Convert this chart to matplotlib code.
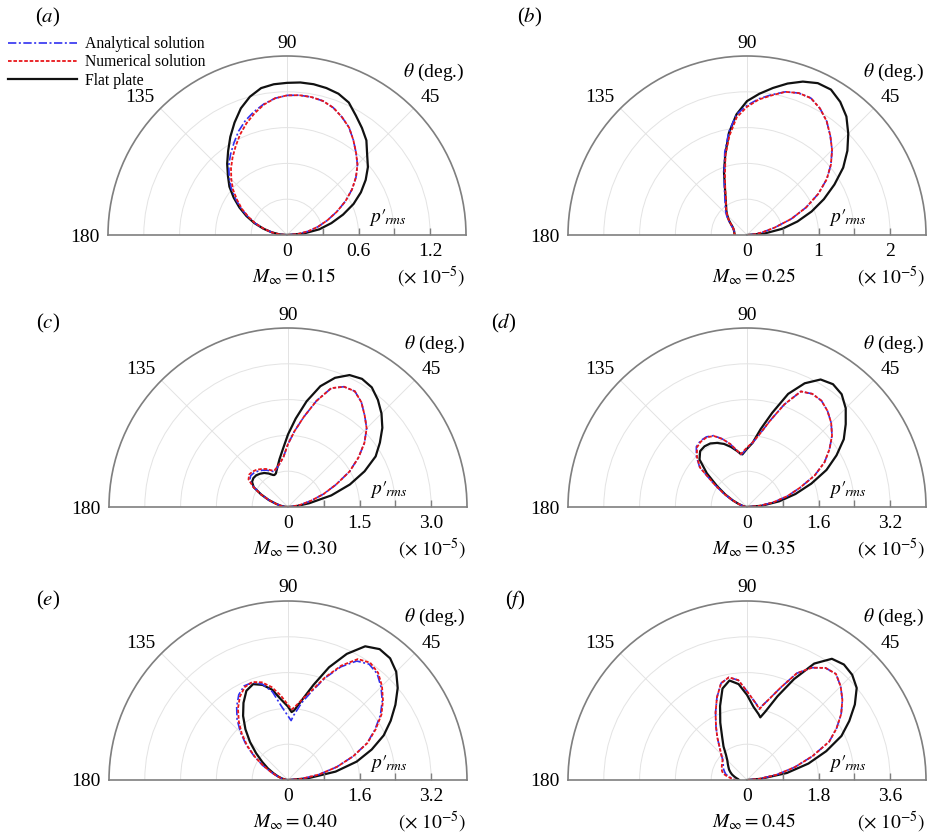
import numpy as np
import matplotlib
matplotlib.use('Agg')
import matplotlib.pyplot as plt

plt.rcParams['font.family'] = ['Liberation Serif', 'DejaVu Serif']
plt.rcParams['mathtext.fontset'] = 'stix'

# directivity p'_rms (x 1e-5), theta in degrees
a_theta = [0, 5, 10, 15, 20, 25, 30, 35, 40, 45, 50, 55, 60, 65, 70, 75, 80, 85, 90,
           95, 100, 105, 110, 115, 120, 125, 130, 135, 140, 145, 150, 155, 160, 165, 170, 175, 180]
a_flat = [0, 0.14, 0.275, 0.385, 0.50, 0.615, 0.715, 0.805, 0.885, 0.95, 1.035, 1.095, 1.155, 1.225, 1.26, 1.275, 1.283, 1.283, 1.275,
          1.268, 1.25, 1.2, 1.13, 1.04, 0.95, 0.86, 0.78, 0.70, 0.63, 0.545, 0.46, 0.375, 0.29, 0.205, 0.13, 0.065, 0]
a_num = [0, 0.09, 0.18, 0.27, 0.36, 0.46, 0.565, 0.665, 0.755, 0.835, 0.90, 0.97, 1.04, 1.09, 1.135, 1.163, 1.174, 1.176, 1.17,
         1.15, 1.11, 1.055, 0.995, 0.93, 0.86, 0.795, 0.73, 0.66, 0.59, 0.51, 0.435, 0.355, 0.28, 0.20, 0.13, 0.065, 0]
a_ana = [0, 0.09, 0.18, 0.27, 0.36, 0.46, 0.565, 0.665, 0.755, 0.835, 0.90, 0.97, 1.04, 1.09, 1.135, 1.163, 1.174, 1.176, 1.17,
         1.15, 1.115, 1.07, 1.02, 0.96, 0.89, 0.825, 0.76, 0.685, 0.61, 0.525, 0.445, 0.36, 0.28, 0.20, 0.13, 0.065, 0]

b_theta = [0, 5, 10, 15, 20, 25, 30, 35, 40, 45, 50, 55, 60, 65, 70, 75, 80, 85, 90,
           95, 100, 105, 110, 115, 120, 125, 130, 135, 140, 145, 150, 155, 160, 165, 170, 175, 180]
b_flat = [0, 0.25, 0.5, 0.73, 0.96, 1.185, 1.41, 1.64, 1.83, 2.0, 2.16, 2.27, 2.345, 2.34, 2.28, 2.19, 2.085, 1.98, 1.87,
          1.69, 1.45, 1.17, 0.94, 0.73, 0.6, 0.51, 0.45, 0.39, 0.335, 0.28, 0.235, 0.21, 0.195, 0.185, 0.18, 0.175, 0.17]
b_num = [0, 0.1, 0.22, 0.4, 0.66, 0.91, 1.15, 1.36, 1.53, 1.68, 1.81, 1.94, 2.04, 2.11, 2.11, 2.07, 1.98, 1.9, 1.79,
         1.65, 1.41, 1.16, 0.9, 0.72, 0.59, 0.51, 0.45, 0.39, 0.335, 0.28, 0.235, 0.21, 0.195, 0.185, 0.18, 0.175, 0.17]
b_ana = [0, 0.1, 0.22, 0.4, 0.66, 0.91, 1.15, 1.36, 1.53, 1.68, 1.81, 1.94, 2.04, 2.11, 2.11, 2.07, 1.99, 1.91, 1.81,
         1.69, 1.46, 1.2, 0.93, 0.75, 0.62, 0.53, 0.47, 0.41, 0.35, 0.29, 0.245, 0.215, 0.195, 0.185, 0.18, 0.175, 0.17]

c_theta = [0, 5, 10, 15, 20, 25, 30, 35, 40, 45, 50, 55, 60, 65, 70, 75, 80, 85, 90, 95, 100, 105, 110,
           113, 115, 120, 125, 130, 135, 140, 145, 150, 155, 160, 165, 170, 175, 180]
c_flat = [0, 0.15, 0.45, 0.94, 1.38, 1.77, 2.12, 2.35, 2.58, 2.77, 2.93, 3.06, 3.1, 3.05, 2.88, 2.62, 2.25, 1.86, 1.52, 1.22, 1.02, 0.86, 0.745,
          0.728, 0.74, 0.81, 0.87, 0.91, 0.94, 0.945, 0.92, 0.83, 0.62, 0.43, 0.26, 0.16, 0.07, 0]
c_num = [0, 0.08, 0.26, 0.49, 0.79, 1.11, 1.49, 1.8, 2.09, 2.33, 2.5, 2.68, 2.8, 2.78, 2.65, 2.3, 1.92, 1.6, 1.32, 1.06, 0.94, 0.87, 0.82,
         0.83, 0.85, 0.92, 0.97, 1.02, 1.05, 1.06, 1.01, 0.84, 0.63, 0.43, 0.26, 0.16, 0.07, 0]
c_ana = [0, 0.08, 0.26, 0.49, 0.79, 1.11, 1.49, 1.8, 2.09, 2.33, 2.5, 2.68, 2.8, 2.78, 2.65, 2.3, 1.92, 1.6, 1.32, 1.06, 0.94, 0.86, 0.8,
         0.81, 0.83, 0.89, 0.94, 0.98, 1.01, 1.02, 0.98, 0.83, 0.62, 0.43, 0.26, 0.16, 0.07, 0]

d_theta = [0, 5, 10, 15, 20, 25, 30, 35, 40, 45, 50, 55, 60, 65, 70, 75, 80, 85, 90, 95,
           97, 100, 105, 110, 115, 120, 125, 130, 135, 140, 145, 150, 155, 160, 165, 170, 175, 180]
d_flat = [0, 0.33, 0.73, 1.12, 1.53, 1.96, 2.31, 2.64, 2.88, 3.12, 3.29, 3.35, 3.29, 3.05, 2.69, 2.18, 1.77, 1.44, 1.3, 1.18,
          1.2, 1.27, 1.39, 1.5, 1.58, 1.64, 1.655, 1.63, 1.5, 1.17, 0.82, 0.56, 0.35, 0.2, 0.1, 0.05, 0.02, 0]
d_num = [0, 0.27, 0.59, 0.93, 1.26, 1.67, 2.0, 2.25, 2.48, 2.66, 2.8, 2.9, 2.92, 2.85, 2.44, 2.0, 1.66, 1.45, 1.33, 1.22,
         1.19, 1.28, 1.46, 1.62, 1.75, 1.8, 1.79, 1.74, 1.58, 1.37, 0.9, 0.6, 0.36, 0.2, 0.1, 0.05, 0.02, 0]
d_ana = [0, 0.27, 0.59, 0.93, 1.26, 1.67, 2.0, 2.25, 2.48, 2.66, 2.8, 2.9, 2.92, 2.85, 2.44, 2.0, 1.66, 1.44, 1.31, 1.2,
         1.18, 1.27, 1.46, 1.62, 1.76, 1.81, 1.81, 1.76, 1.6, 1.38, 0.91, 0.6, 0.36, 0.2, 0.1, 0.05, 0.02, 0]

e_theta = [0, 5, 10, 15, 20, 25, 30, 35, 40, 45, 50, 55, 60, 65, 70, 75, 80, 85, 87,
           90, 95, 100, 105, 110, 115, 120, 125, 130, 135, 140, 145, 150, 155, 160, 165, 170, 175, 180]
e_flat = [0, 0.45, 1.08, 1.59, 1.99, 2.36, 2.65, 2.93, 3.2, 3.42, 3.55, 3.57, 3.45, 3.11, 2.68, 2.2, 1.82, 1.56, 1.52,
          1.64, 1.81, 2.05, 2.2, 2.28, 2.2, 1.99, 1.75, 1.48, 1.2, 0.93, 0.7, 0.52, 0.36, 0.24, 0.15, 0.08, 0.03, 0]
e_num = [0, 0.3, 0.7, 1.13, 1.55, 1.96, 2.26, 2.55, 2.77, 2.97, 3.13, 3.2, 3.12, 2.82, 2.45, 2.08, 1.83, 1.63, 1.58,
         1.68, 1.9, 2.11, 2.26, 2.33, 2.29, 2.15, 1.95, 1.71, 1.46, 1.19, 0.9, 0.64, 0.42, 0.26, 0.16, 0.08, 0.03, 0]
e_ana = [0, 0.3, 0.7, 1.13, 1.55, 1.95, 2.24, 2.52, 2.75, 2.94, 3.1, 3.16, 3.07, 2.79, 2.43, 2.05, 1.75, 1.45, 1.33,
         1.43, 1.65, 2.0, 2.22, 2.32, 2.32, 2.2, 2.0, 1.77, 1.5, 1.22, 0.92, 0.65, 0.42, 0.26, 0.16, 0.08, 0.03, 0]

f_theta = [0, 5, 10, 15, 20, 25, 30, 35, 40, 45, 50, 55, 60, 65, 70, 75, 78,
           80, 85, 90, 95, 100, 105, 110, 115, 120, 125, 130, 135, 140, 145, 150, 155, 160, 165, 170, 175, 180]
f_flat = [0, 0.35, 1.02, 1.6, 2.12, 2.62, 2.97, 3.31, 3.6, 3.74, 3.79, 3.72, 3.38, 2.8, 2.24, 1.78, 1.61,
          1.68, 1.85, 2.14, 2.42, 2.54, 2.38, 1.98, 1.59, 1.25, 1.03, 0.82, 0.7, 0.63, 0.57, 0.52, 0.46, 0.4, 0.33, 0.27, 0.22, 0.2]
f_num = [0, 0.3, 0.75, 1.24, 1.75, 2.28, 2.6, 2.89, 3.13, 3.33, 3.48, 3.44, 3.26, 2.96, 2.47, 2.09, 1.92,
         1.81, 2.0, 2.23, 2.52, 2.62, 2.52, 2.21, 1.87, 1.56, 1.3, 1.07, 0.92, 0.8, 0.76, 0.73, 0.7, 0.67, 0.62, 0.5, 0.38, 0.3]
f_ana = [0, 0.3, 0.75, 1.24, 1.75, 2.28, 2.6, 2.89, 3.13, 3.33, 3.48, 3.44, 3.26, 2.96, 2.47, 2.09, 1.93,
         1.83, 2.0, 2.23, 2.52, 2.62, 2.52, 2.21, 1.87, 1.56, 1.3, 1.07, 0.92, 0.8, 0.73, 0.69, 0.65, 0.6, 0.55, 0.45, 0.36, 0.3]

mach = ['0.15', '0.25', '0.30', '0.35', '0.40', '0.45']
r_max = [1.5, 2.5, 3.5, 4.0, 4.0, 4.5]
r_step = [0.3, 0.5, 0.75, 0.8, 0.8, 0.9]
r_labels = [['0', '0.6', '1.2'], ['0', '1', '2'], ['0', '1.5', '3.0'],
            ['0', '1.6', '3.2'], ['0', '1.6', '3.2'], ['0', '1.8', '3.6']]
theta_labels = ['45', '90', '135', '180']

W, H, R = 930, 836, 179
centers = [(287, 235), (747, 235), (288, 507), (747, 507), (288, 780), (747, 780)]
tags = ['a', 'b', 'c', 'd', 'e', 'f']
tag_pos = [(48, 17), (530, 17), (48, 323), (504, 323), (48, 600), (515, 600)]
# offsets (px) of the theta labels from the disc centre
theta_lab_off = [(143, -137), (0, -192), (-147, -137), (-202, 2)]

series = [(a_theta, a_ana, a_num, a_flat), (b_theta, b_ana, b_num, b_flat),
          (c_theta, c_ana, c_num, c_flat), (d_theta, d_ana, d_num, d_flat),
          (e_theta, e_ana, e_num, e_flat), (f_theta, f_ana, f_num, f_flat)]

fig = plt.figure(figsize=(W / 100, H / 100), dpi=100)
spine_col = '#7f7f7f'


def ptext(x, y, s, **kw):
    # text at pixel position measured from the top-left corner
    fig.text(x / W, 1 - y / H, s, fontsize=14, **kw)


for i in range(6):
    cx, cy = centers[i]
    # the half disc is drawn centred in a square box of side 2R
    ax = fig.add_axes([(cx - R) / W, (H - (cy + R / 2)) / H, 2 * R / W, 2 * R / H],
                      projection='polar')
    ax.set_thetamin(0)
    ax.set_thetamax(180)
    th, ana, num, flat = series[i]
    t = np.deg2rad(th)
    l3, = ax.plot(t, flat, color='#111111', lw=1.6, label='Flat plate')
    l1, = ax.plot(t, ana, color='#3030f0', lw=1.2, ls=(0, (5, 1.5, 1.2, 1.5)), label='Analytical solution')
    l2, = ax.plot(t, num, color='#e8161a', lw=1.3, ls=(0, (2, 1)), label='Numerical solution')

    rm, st = r_max[i], r_step[i]
    ticks = np.arange(1, round(rm / st) + 1) * st
    ax.set_rlim(0, rm)
    ax.set_rticks(ticks)
    ax.set_yticklabels([])
    ax.set_thetagrids([0, 45, 90, 135, 180], [''] * 5)
    ax.tick_params(axis='x', direction='in', length=5, color=spine_col)
    ax.grid(color='#e3e3e3', lw=0.7)
    for s in ax.spines.values():
        s.set_color(spine_col)
        s.set_linewidth(1.2)
    # radial tick marks along the 0 deg edge
    inner = ticks[ticks < rm - 1e-9]
    ax.plot(np.zeros(len(inner)), inner, ls='none', marker=2, ms=5, mew=1.0,
            color=spine_col, clip_on=False)
    for k, lab in enumerate(r_labels[i]):
        ax.annotate(lab, xy=(0, 2 * k * st), xytext=(0, -6), textcoords='offset points',
                    ha='center', va='top', fontsize=14)
    for lab, (ox, oy) in zip(theta_labels, theta_lab_off):
        ptext(cx + ox, cy + oy, lab, ha='center', va='center')
    ptext(cx + 7, cy + 42, r'$M_\infty = ' + mach[i] + '$', ha='center', va='center')
    ptext(cx + 178, cy + 42, r'$(\times\ 10^{-5})$', ha='right', va='center')
    ptext(cx + 178, cy - 163, r'$\theta$ (deg.)', ha='right', va='center')
    ptext(cx + 101, cy - 17, r"$p{\prime}_{\!rms}$", ha='center', va='center')
    fig.text(tag_pos[i][0] / W, 1 - tag_pos[i][1] / H, '($' + tags[i] + '$)',
             ha='center', va='center', fontsize=15)
    if i == 0:
        fig.legend(handles=[l1, l2, l3], loc='upper left', bbox_to_anchor=(8 / W, 1 - 36 / H),
                   frameon=False, fontsize=11.3, handlelength=4.4, handletextpad=0.5,
                   labelspacing=0.15, borderpad=0, borderaxespad=0)

fig.savefig('out.png', dpi=100)
